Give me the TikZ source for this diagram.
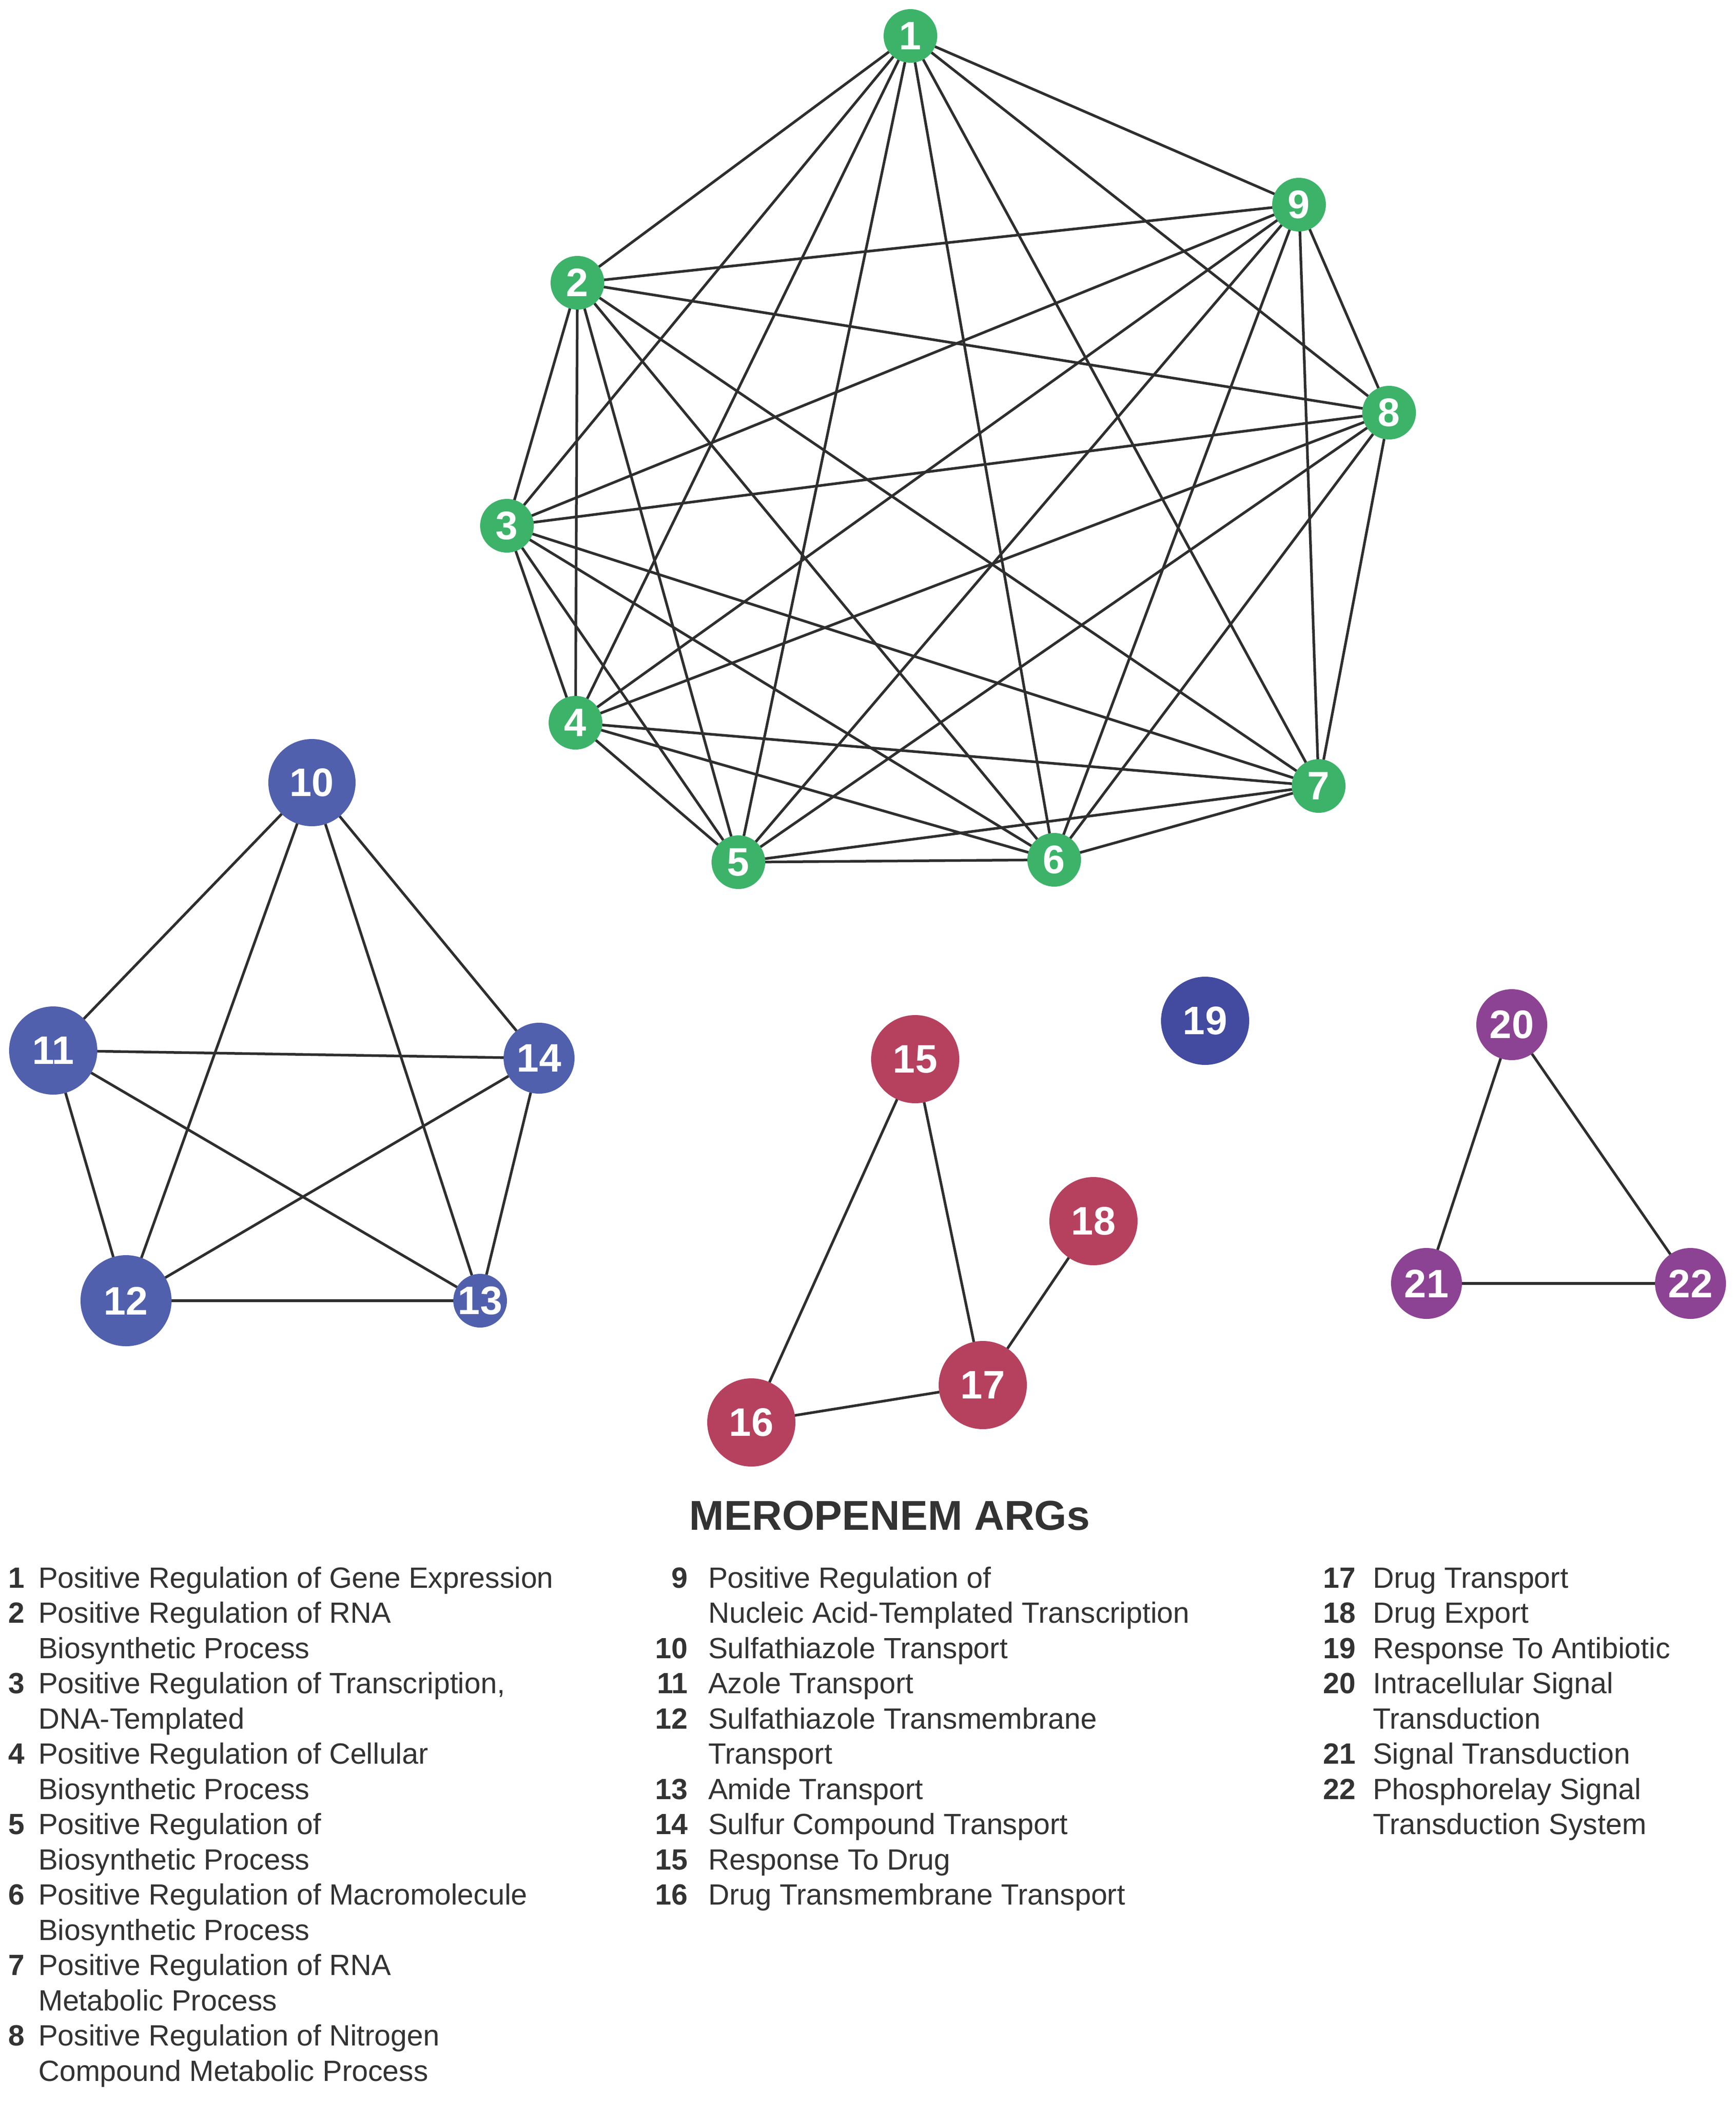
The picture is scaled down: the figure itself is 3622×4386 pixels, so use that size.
\documentclass[tikz,border=0pt]{standalone}
\usepackage{fontspec}
\setmainfont{Liberation Sans}
\definecolor{gn}{HTML}{3DB36A}
\definecolor{bl}{HTML}{5060AD}
\definecolor{bld}{HTML}{424BA0}
\definecolor{rd}{HTML}{B6415F}
\definecolor{pu}{HTML}{8C4393}
\definecolor{ln}{HTML}{2E2E2E}
\definecolor{tx}{HTML}{333333}
\tikzset{
  vtx/.style={circle,inner sep=0pt,outer sep=0pt,text=white,
    font=\fontsize{83}{83}\selectfont\bfseries},
  gnode/.style={vtx,fill=gn,minimum size=112pt},
  edge/.style={draw=ln,line width=5.5pt},
  legnum/.style={anchor=base east,inner sep=0pt,text=tx,font=\fontsize{61}{73}\selectfont\bfseries},
  legtxt/.style={anchor=base west,inner sep=0pt,text=tx,font=\fontsize{61}{73}\selectfont},
}
\begin{document}
\begin{tikzpicture}[x=1pt,y=-1pt]
\useasboundingbox[fill=white] (0,0) rectangle (3622,4386);
% green cluster
\node[gnode] (g1) at (1900,75) {1};
\node[gnode] (g2) at (1205,590) {2};
\node[gnode] (g3) at (1058,1097) {3};
\node[gnode] (g4) at (1201,1508) {4};
\node[gnode] (g5) at (1541,1799) {5};
\node[gnode] (g6) at (2200,1794) {6};
\node[gnode] (g7) at (2752,1640) {7};
\node[gnode] (g8) at (2899,861) {8};
\node[gnode] (g9) at (2711,427) {9};
\foreach \i in {1,...,8}{
  \pgfmathtruncatemacro\s{\i+1}
  \foreach \j in {\s,...,9}{\draw[edge] (g\i) -- (g\j);}
}
% blue cluster
\node[vtx,fill=bl,minimum size=182pt] (b10) at (651,1633) {10};
\node[vtx,fill=bl,minimum size=184pt] (b11) at (111,2192) {11};
\node[vtx,fill=bl,minimum size=148pt] (b14) at (1125,2208) {14};
\node[vtx,fill=bl,minimum size=190pt] (b12) at (263,2714) {12};
\node[vtx,fill=bl,minimum size=112pt] (b13) at (1002,2714) {13};
\foreach \a/\b in {10/11,10/12,10/13,10/14,11/12,11/13,11/14,12/13,12/14,13/14}
  {\draw[edge] (b\a) -- (b\b);}
% single
\node[vtx,fill=bld,minimum size=184pt] (b19) at (2515,2130) {19};
% red cluster
\node[vtx,fill=rd,minimum size=184pt] (r15) at (1910,2210) {15};
\node[vtx,fill=rd,minimum size=184pt] (r18) at (2282,2548) {18};
\node[vtx,fill=rd,minimum size=184pt] (r17) at (2051,2890) {17};
\node[vtx,fill=rd,minimum size=184pt] (r16) at (1568,2968) {16};
\draw[edge] (r15) -- (r16);
\draw[edge] (r15) -- (r17);
\draw[edge] (r16) -- (r17);
\draw[edge] (r17) -- (r18);
% purple cluster
\node[vtx,fill=pu,minimum size=148pt] (p20) at (3155,2138) {20};
\node[vtx,fill=pu,minimum size=148pt] (p21) at (2977,2678) {21};
\node[vtx,fill=pu,minimum size=148pt] (p22) at (3528,2678) {22};
\draw[edge] (p20) -- (p21);
\draw[edge] (p20) -- (p22);
\draw[edge] (p21) -- (p22);
% title
\node[anchor=base,inner sep=0pt,text=tx,font=\fontsize{87}{87}\selectfont\bfseries] (title) at (1857,3192) {MEROPENEM ARGs};
% legend column 1
\node[legnum] (n1) at (52,3313) {1};
\node[legtxt] (t1) at (80,3313) {Positive Regulation of Gene Expression};
\node[legnum] (n2) at (52,3386.5) {2};
\node[legtxt] (t2) at (80,3386.5) {Positive Regulation of RNA};
\node[legtxt] (t2b) at (80,3460) {Biosynthetic Process};
\node[legnum] (n3) at (52,3533.5) {3};
\node[legtxt] (t3) at (80,3533.5) {Positive Regulation of Transcription,};
\node[legtxt] (t3b) at (80,3607) {DNA-Templated};
\node[legnum] (n4) at (52,3680.5) {4};
\node[legtxt] (t4) at (80,3680.5) {Positive Regulation of Cellular};
\node[legtxt] (t4b) at (80,3754) {Biosynthetic Process};
\node[legnum] (n5) at (52,3827.5) {5};
\node[legtxt] (t5) at (80,3827.5) {Positive Regulation of};
\node[legtxt] (t5b) at (80,3901) {Biosynthetic Process};
\node[legnum] (n6) at (52,3974.5) {6};
\node[legtxt] (t6) at (80,3974.5) {Positive Regulation of Macromolecule};
\node[legtxt] (t6b) at (80,4048) {Biosynthetic Process};
\node[legnum] (n7) at (52,4121.5) {7};
\node[legtxt] (t7) at (80,4121.5) {Positive Regulation of RNA};
\node[legtxt] (t7b) at (80,4195) {Metabolic Process};
\node[legnum] (n8) at (52,4268.5) {8};
\node[legtxt] (t8) at (80,4268.5) {Positive Regulation of Nitrogen};
\node[legtxt] (t8b) at (80,4342) {Compound Metabolic Process};
% legend column 2
\node[legnum] (n9) at (1436,3313) {9};
\node[legtxt] (t9) at (1478,3313) {Positive Regulation of};
\node[legtxt] (t9b) at (1478,3386.5) {Nucleic Acid-Templated Transcription};
\node[legnum] (n10) at (1436,3460) {10};
\node[legtxt] (t10) at (1478,3460) {Sulfathiazole Transport};
\node[legnum] (n11) at (1436,3533.5) {11};
\node[legtxt] (t11) at (1478,3533.5) {Azole Transport};
\node[legnum] (n12) at (1436,3607) {12};
\node[legtxt] (t12) at (1478,3607) {Sulfathiazole Transmembrane};
\node[legtxt] (t12b) at (1478,3680.5) {Transport};
\node[legnum] (n13) at (1436,3754) {13};
\node[legtxt] (t13) at (1478,3754) {Amide Transport};
\node[legnum] (n14) at (1436,3827.5) {14};
\node[legtxt] (t14) at (1478,3827.5) {Sulfur Compound Transport};
\node[legnum] (n15) at (1436,3901) {15};
\node[legtxt] (t15) at (1478,3901) {Response To Drug};
\node[legnum] (n16) at (1436,3974.5) {16};
\node[legtxt] (t16) at (1478,3974.5) {Drug Transmembrane Transport};
% legend column 3
\node[legnum] (n17) at (2830,3313) {17};
\node[legtxt] (t17) at (2865,3313) {Drug Transport};
\node[legnum] (n18) at (2830,3386.5) {18};
\node[legtxt] (t18) at (2865,3386.5) {Drug Export};
\node[legnum] (n19) at (2830,3460) {19};
\node[legtxt] (t19) at (2865,3460) {Response To Antibiotic};
\node[legnum] (n20) at (2830,3533.5) {20};
\node[legtxt] (t20) at (2865,3533.5) {Intracellular Signal};
\node[legtxt] (t20b) at (2865,3607) {Transduction};
\node[legnum] (n21) at (2830,3680.5) {21};
\node[legtxt] (t21) at (2865,3680.5) {Signal Transduction};
\node[legnum] (n22) at (2830,3754) {22};
\node[legtxt] (t22) at (2865,3754) {Phosphorelay Signal};
\node[legtxt] (t22b) at (2865,3827.5) {Transduction System};
\end{tikzpicture}
\end{document}
